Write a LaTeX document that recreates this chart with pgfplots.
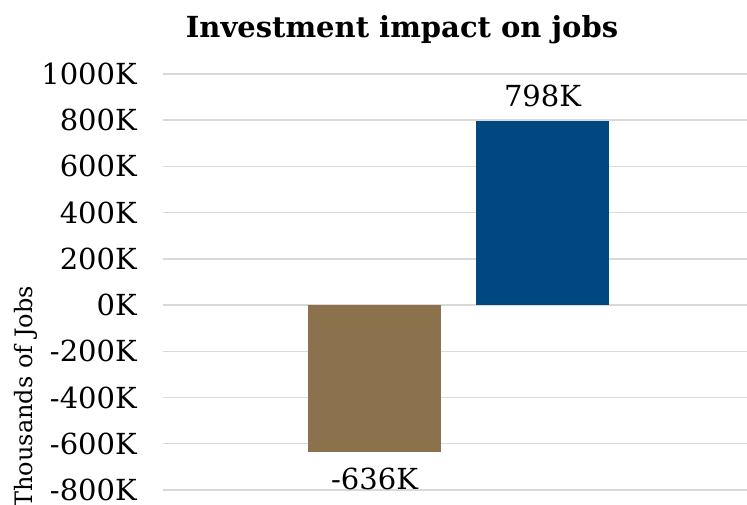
\documentclass[border=0pt]{standalone}
\usepackage{fontspec}
\setmainfont{DejaVu Serif}
\usepackage{pgfplots}
\pgfplotsset{compat=1.18}
\definecolor{brownbar}{RGB}{139,113,76}
\definecolor{bluebar}{RGB}{0,72,128}
\definecolor{gridc}{RGB}{217,217,217}
\begin{document}
\begin{tikzpicture}[x=1pt,y=1pt]
\begin{axis}[
  at={(163pt,0pt)}, anchor=south west,
  scale only axis, width=584pt, height=430pt,
  xmin=-0.259, xmax=3.217, ymin=-861, ymax=1000,
  axis line style={draw=none},
  xtick=\empty,
  ytick={-800,-600,...,1000},
  ymajorgrids, grid style={gridc, line width=1.5pt},
  major tick length=0pt,
  /pgf/number format/assume math mode=true,
  /pgf/number format/set thousands separator={},
  /pgf/number format/fixed,
  /pgf/number format/precision=0,
  yticklabel={\pgfmathprintnumber{\tick}K},
  yticklabel style={font=\fontsize{29}{34}\selectfont, inner sep=0pt, xshift=-26pt},
  ybar, bar width=0.79, bar shift=0pt,
  clip=false,
  point meta=y,
  nodes near coords={\pgfmathprintnumber{\pgfplotspointmeta}K},
  every node near coord/.append style={font=\fontsize{29}{34}\selectfont, inner sep=0pt, text=black},
]
\addplot[fill=brownbar, draw=none, nodes near coords style={yshift=-16pt}] coordinates {(1,-636)};
\addplot[fill=bluebar, draw=none, nodes near coords style={yshift=14pt}] coordinates {(2,798)};
\end{axis}
\node[font=\bfseries\fontsize{29}{34}\selectfont, anchor=base] at (402,466) {Investment impact on jobs};
\node[rotate=90, anchor=base east, font=\fontsize{24}{28}\selectfont, inner sep=0pt] at (32,218) {Thousands of Jobs};
\pgfresetboundingbox
\useasboundingbox (0,0) rectangle (747,504);
\end{tikzpicture}
\end{document}
